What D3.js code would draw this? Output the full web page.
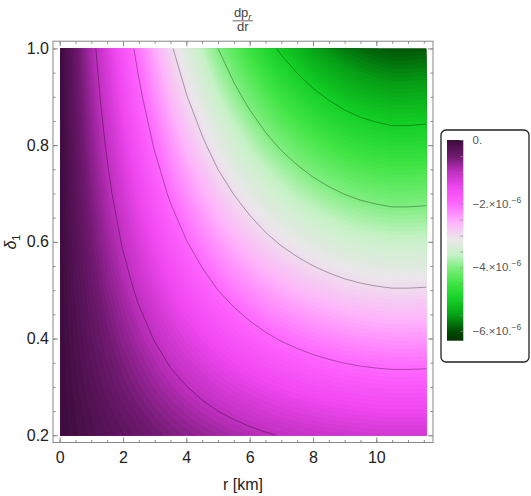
<!DOCTYPE html>
<html>
<head>
<meta charset="UTF-8">
<script src="https://d3js.org/d3.v7.min.js"></script>
<style>
  body { margin: 0; background: #fff; font-family: "Liberation Sans", Arial, sans-serif; }
  .tick text { font-size: 16px; fill: #222; font-family: "Liberation Sans", Arial, sans-serif; }
  .tick line { stroke: #888; }
</style>
</head>
<body>
<div id="chart"></div>
<script>
// grid of the density plot: r [km] columns, delta_1 rows
const rValues = [0, 0.5, 1, 1.5, 2, 2.5, 3, 3.5, 4, 4.5, 5, 5.5, 6, 6.5, 7, 7.5, 8, 8.5, 9, 9.5, 10, 10.5, 11, 11.5, 12];
const deltaValues = [0.2, 0.3, 0.4, 0.5, 0.6, 0.7, 0.8, 0.9, 1.0];

// dp_r/dr in units of 1e-6, one row per delta (0.2 .. 1.0)
const dpdr = [
  [0, -0.09, -0.176, -0.26, -0.344, -0.426, -0.508, -0.588, -0.662, -0.732, -0.8, -0.86, -0.916, -0.968, -1.014, -1.054, -1.09, -1.12, -1.146, -1.166, -1.18, -1.19, -1.19, -1.186, -1.182],
  [0, -0.135, -0.264, -0.39, -0.516, -0.639, -0.762, -0.882, -0.993, -1.098, -1.2, -1.29, -1.374, -1.452, -1.521, -1.581, -1.635, -1.68, -1.719, -1.749, -1.77, -1.785, -1.785, -1.779, -1.773],
  [0, -0.18, -0.352, -0.52, -0.688, -0.852, -1.016, -1.176, -1.324, -1.464, -1.6, -1.72, -1.832, -1.936, -2.028, -2.108, -2.18, -2.24, -2.292, -2.332, -2.36, -2.38, -2.38, -2.372, -2.364],
  [0, -0.225, -0.44, -0.65, -0.86, -1.065, -1.27, -1.47, -1.655, -1.83, -2.0, -2.15, -2.29, -2.42, -2.535, -2.635, -2.725, -2.8, -2.865, -2.915, -2.95, -2.975, -2.975, -2.965, -2.955],
  [0, -0.27, -0.528, -0.78, -1.032, -1.278, -1.524, -1.764, -1.986, -2.196, -2.4, -2.58, -2.748, -2.904, -3.042, -3.162, -3.27, -3.36, -3.438, -3.498, -3.54, -3.57, -3.57, -3.558, -3.546],
  [0, -0.315, -0.616, -0.91, -1.204, -1.491, -1.778, -2.058, -2.317, -2.562, -2.8, -3.01, -3.206, -3.388, -3.549, -3.689, -3.815, -3.92, -4.011, -4.081, -4.13, -4.165, -4.165, -4.151, -4.137],
  [0, -0.36, -0.704, -1.04, -1.376, -1.704, -2.032, -2.352, -2.648, -2.928, -3.2, -3.44, -3.664, -3.872, -4.056, -4.216, -4.36, -4.48, -4.584, -4.664, -4.72, -4.76, -4.76, -4.744, -4.728],
  [0, -0.405, -0.792, -1.17, -1.548, -1.917, -2.286, -2.646, -2.979, -3.294, -3.6, -3.87, -4.122, -4.356, -4.563, -4.743, -4.905, -5.04, -5.157, -5.247, -5.31, -5.355, -5.355, -5.337, -5.319],
  [0, -0.45, -0.88, -1.3, -1.72, -2.13, -2.54, -2.94, -3.31, -3.66, -4.0, -4.3, -4.58, -4.84, -5.07, -5.27, -5.45, -5.6, -5.73, -5.83, -5.9, -5.95, -5.95, -5.93, -5.91]
];

const contourLevels = [-5, -4, -3, -2, -1];
const xTicks = [0, 2, 4, 6, 8, 10];
const yTicks = [0.2, 0.4, 0.6, 0.8, 1.0];
const legendTicks = [0, -2, -4, -6];

// colour function (value in 1e-6 -> colour)
const colorStops = [0, -0.5, -1.0, -1.5, -2.0, -2.6, -3.1, -3.6, -4.0, -4.5, -5.0, -5.5, -6.0, -6.3];
const colorHex = ["#3c0c3c", "#6e196e", "#c030c0", "#f048f0", "#ff66ff", "#ffb4fb", "#ece6ec",
                  "#c8f2c8", "#80ee80", "#40e444", "#14d026", "#06a016", "#004c04", "#003400"];

const W = 531, H = 496;
const svg = d3.select("#chart").append("svg").attr("width", W).attr("height", H);

const x = d3.scaleLinear().domain([-0.21, 11.79]).range([53, 433]);
const y = d3.scaleLinear().domain([0.185, 1.015]).range([442.5, 41.2]);
const color = d3.scaleLinear().domain(colorStops).range(colorHex).interpolate(d3.interpolateRgb).clamp(true);

// data area
const rMin = 0.03, rMax = 11.58;
svg.append("clipPath").attr("id", "clip")
  .append("rect")
  .attr("x", x(rMin)).attr("y", y(1.0))
  .attr("width", x(rMax) - x(rMin)).attr("height", y(0.2) - y(1.0));

const n = rValues.length, m = deltaValues.length;
const gx = d3.scaleLinear().domain([0, n - 1]).range([rValues[0], rValues[n - 1]]);
const gy = d3.scaleLinear().domain([0, m - 1]).range([deltaValues[0], deltaValues[m - 1]]);
const proj = d3.geoTransform({
  point(px, py) { this.stream.point(x(gx(px - 0.5)), y(gy(py - 0.5))); }
});
const path = d3.geoPath(proj);
const grid = dpdr.flat();
const contours = d3.contours().size([n, m]);

const plot = svg.append("g").attr("clip-path", "url(#clip)");

const step = 0.05;
const bands = d3.range(-6.0, 0, step);
plot.selectAll("path.band")
  .data(contours.thresholds(bands)(grid))
  .join("path")
  .attr("class", "band")
  .attr("d", path)
  .attr("fill", d => color(d.value + step / 2))
  .attr("stroke", d => color(d.value + step / 2))
  .attr("stroke-width", 0.4);

plot.selectAll("path.iso")
  .data(contours.thresholds(contourLevels)(grid))
  .join("path")
  .attr("class", "iso")
  .attr("d", path)
  .attr("fill", "none")
  .attr("stroke", "#000")
  .attr("stroke-opacity", 0.32)
  .attr("stroke-width", 1);

// frame with ticks
const xMinor = d3.range(0, 11.8, 0.5);
const yMinor = d3.range(0.2, 1.001, 0.05);

function addAxis(make, scale, tx, ty, major, minor, labelled, pad) {
  const gMin = svg.append("g").attr("transform", `translate(${tx},${ty})`)
    .call(make(scale).tickValues(minor).tickSize(-2.5).tickFormat(""));
  gMin.select(".domain").remove();
  const gMaj = svg.append("g").attr("transform", `translate(${tx},${ty})`)
    .call(make(scale).tickValues(major).tickSize(-5).tickPadding(pad)
      .tickFormat(labelled ? d3.format(".1~f") : ""));
  gMaj.select(".domain").remove();
  return gMaj;
}

const gB = addAxis(d3.axisBottom, x, 0, 442.5, xTicks, xMinor, true, 9);
gB.selectAll("text").text(d => d3.format("d")(d));
addAxis(d3.axisTop, x, 0, 41.2, xTicks, xMinor, false, 0);
const gL = addAxis(d3.axisLeft, y, 53, 0, yTicks, yMinor, true, 4);
gL.selectAll("text").text(d => d3.format(".1f")(d));
addAxis(d3.axisRight, y, 433, 0, yTicks, yMinor, false, 0);

svg.append("rect")
  .attr("x", 53).attr("y", 41.2).attr("width", 380).attr("height", 442.5 - 41.2)
  .attr("fill", "none").attr("stroke", "#888").attr("stroke-width", 1);

// axis labels
svg.append("text")
  .attr("x", 243).attr("y", 490)
  .attr("text-anchor", "middle")
  .attr("font-size", 16).attr("fill", "#222")
  .text("r [km]");

const yl = svg.append("text")
  .attr("transform", "translate(16,242) rotate(-90)")
  .attr("text-anchor", "middle")
  .attr("font-size", 16).attr("fill", "#222");
yl.append("tspan").attr("font-style", "italic").text("δ");
yl.append("tspan").attr("font-size", 11).attr("dy", 4).text("1");

// title dp_r / dr
const title = svg.append("g").attr("fill", "#444").attr("font-size", 13);
const num = title.append("text").attr("x", 242.7).attr("y", 17).attr("text-anchor", "middle");
num.append("tspan").text("dp");
num.append("tspan").attr("font-size", 9.5).attr("font-style", "italic").attr("dy", 3).text("r");
svg.append("line")
  .attr("x1", 232.5).attr("x2", 253).attr("y1", 20.8).attr("y2", 20.8)
  .attr("stroke", "#444").attr("stroke-width", 0.8);
title.append("text").attr("x", 242.7).attr("y", 31).attr("text-anchor", "middle").text("dr");

// legend
const lx = 447, lw = 16.3, ly = d3.scaleLinear().domain([0, -6.3]).range([140, 340.7]);

svg.append("rect")
  .attr("x", 441).attr("y", 130).attr("width", 88).attr("height", 232).attr("rx", 5)
  .attr("fill", "#fff").attr("stroke", "#222").attr("stroke-width", 1.3);

const grad = svg.append("defs").append("linearGradient")
  .attr("id", "lg").attr("x1", 0).attr("y1", 0).attr("x2", 0).attr("y2", 1);
grad.selectAll("stop")
  .data(colorStops)
  .join("stop")
  .attr("offset", d => (ly(d) - ly(0)) / (ly(-6.3) - ly(0)))
  .attr("stop-color", (d, i) => colorHex[i]);

svg.append("rect")
  .attr("x", lx).attr("y", ly(0)).attr("width", lw).attr("height", ly(-6.3) - ly(0))
  .attr("fill", "url(#lg)");

const gLeg = svg.append("g").attr("transform", `translate(${lx + lw},0)`)
  .call(d3.axisRight(ly).tickValues(d3.range(0, -6.31, -0.5)).tickSize(-3).tickFormat(""));
gLeg.select(".domain").remove();
gLeg.selectAll("line").attr("stroke", "#ccc").attr("stroke-opacity", 0.7);

const labs = svg.append("g").attr("font-size", 11.5).attr("fill", "#555");
legendTicks.forEach(v => {
  const t = labs.append("text").attr("x", 472.5).attr("y", ly(v) + 4);
  if (v === 0) {
    t.text("0.");
  } else {
    t.append("tspan").text(`\u2212${-v}.\u00d710.`);
    t.append("tspan").attr("font-size", 8.5).attr("dy", -5).text("\u22126");
  }
});
</script>
</body>
</html>
